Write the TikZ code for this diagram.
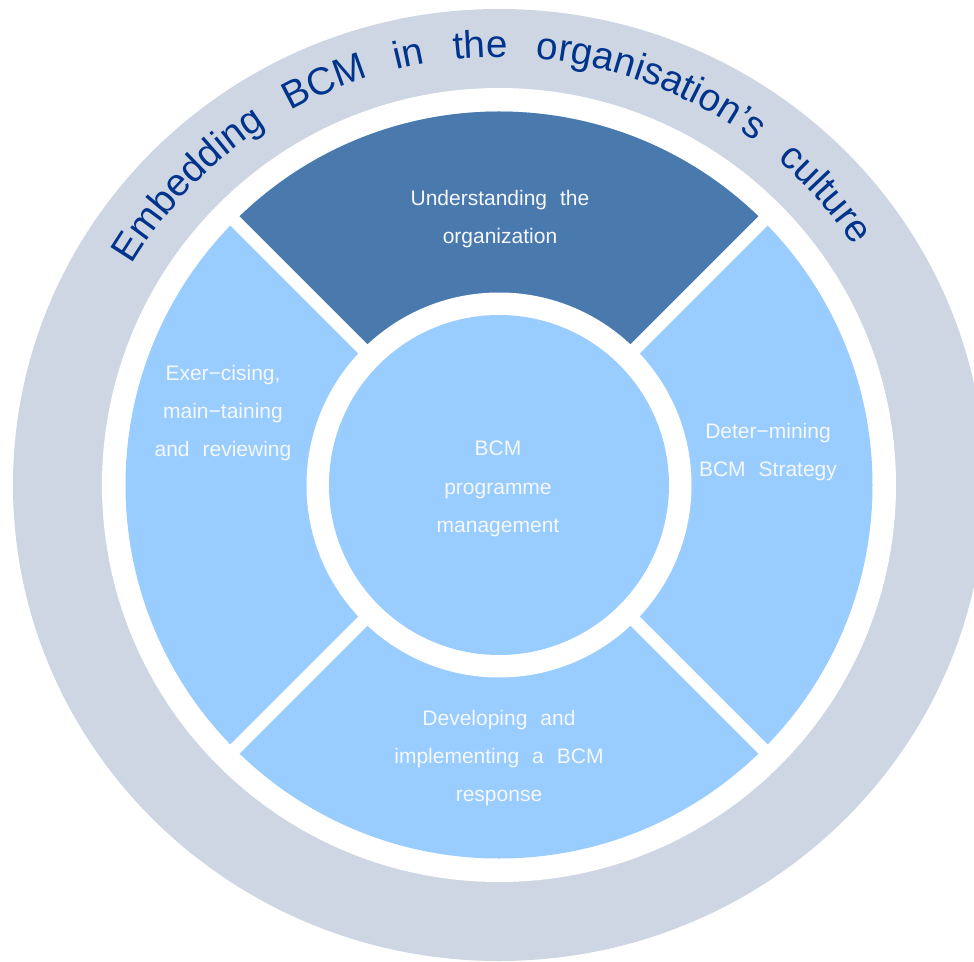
\documentclass[tikz,border=0pt]{standalone}
\usepackage{fontspec}
\setmainfont{Liberation Sans}
\usetikzlibrary{decorations.text}

\definecolor{ringgray}{RGB}{205,214,226}
\definecolor{sectordark}{RGB}{74,121,174}
\definecolor{sectorlight}{RGB}{153,204,255}
\definecolor{arcblue}{RGB}{0,51,140}
\definecolor{labelwhite}{RGB}{245,248,252}

% label font with widened word spacing
\newcommand\labelfont{\fontsize{21}{38.3}\selectfont\spaceskip=0.62em plus 0.1em\relax}
\newcommand\arcfont{\fontsize{38.5}{38.5}\selectfont}

\begin{document}
\begin{tikzpicture}[x=1pt,y=1pt,
  label text/.style={text=labelwhite, font=\labelfont, align=center, inner sep=0pt},
  gapline/.style={draw=white, line width=13pt}]
\clip (-499,-476) rectangle (475,485);

% outer culture ring
\fill[ringgray] (0,0) ellipse [x radius=486pt, y radius=476pt];
\fill[white] (0,0) circle[radius=397pt];

% four process sectors
\fill[sectorlight] (0,0) circle[radius=373.5pt];
\fill[sectordark] (0,0) -- (45:373.5) arc[start angle=45, end angle=135, radius=373.5pt] -- cycle;
\path[gapline] (45:390) -- (225:390) (135:390) -- (-45:390);

% central programme management disc
\fill[white] (0,0) circle[radius=192.5pt];
\fill[sectorlight] (0,0) circle[radius=170pt];

% curved title on the outer ring
\path[decorate, decoration={text along path,
    text align={fit to path stretching spaces},
    text={|\arcfont\color{arcblue}|Embedding BCM in the organisation’s culture}}]
  (149:428) arc[start angle=149, end angle=34, radius=428pt];

\node[label text] (understand) at (1,266) {Understanding the\\organization};
\node[label text] (programme) at (-1,-4) {BCM\\programme\\management};
\node[label text] (exercise) at (-276,72) {Exer−cising,\\main−taining\\and reviewing};
\node[label text] (strategy) at (269,33) {Deter−mining\\BCM Strategy};
\node[label text] (response) at (0,-273) {Developing and\\implementing a BCM\\response};
\end{tikzpicture}
\end{document}
